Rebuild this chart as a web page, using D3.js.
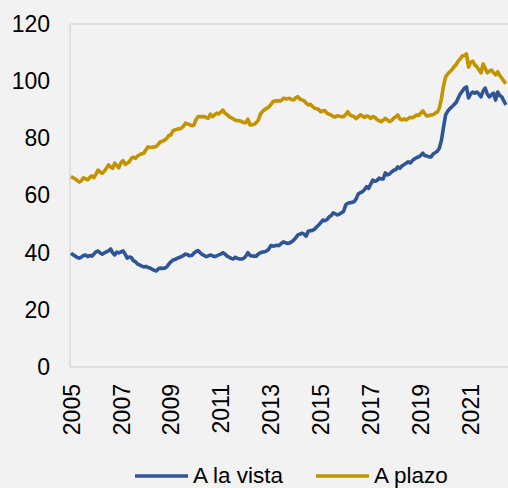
<!DOCTYPE html>
<html>
<head>
<meta charset="utf-8">
<script src="https://cdn.jsdelivr.net/npm/d3@7"></script>
<style>
  body { margin: 0; background: #F2F2F2; }
  svg { display: block; font-family: "Liberation Sans", Arial, sans-serif; }
</style>
</head>
<body>
<div id="chart"></div>
<script>
// monthly series, Jan 2005 onward
const startYear = 2005;
const tickYears = [2005, 2007, 2009, 2011, 2013, 2015, 2017, 2019, 2021];
const yTicks = [0, 20, 40, 60, 80, 100, 120];
const seriesNames = ["A la vista", "A plazo"];

const vista = [
  39.8, 39.3, 38.8, 38.3, 38.1, 38.5, 39.0, 39.2, 38.6, 39.0, 38.8, 39.5,
  40.3, 40.6, 39.9, 39.5, 39.9, 40.3, 40.6, 41.3, 40.0, 39.2, 40.2, 39.9,
  40.3, 40.6, 39.5, 38.1, 38.5, 38.3, 37.2, 36.8, 36.0, 35.7, 35.3, 35.0,
  35.2, 34.8, 34.6, 34.2, 33.8, 33.6, 34.4, 34.6, 34.5, 34.6, 35.0, 36.0,
  36.8, 37.4, 37.6, 38.0, 38.3, 38.6, 39.0, 39.5, 39.3, 38.9, 39.0, 39.8,
  40.4, 40.7, 40.0, 39.4, 39.0, 38.6, 38.9, 39.2, 38.9, 38.6, 38.9, 39.2,
  39.5, 40.0, 39.5, 38.8, 38.4, 38.0, 37.8, 38.4, 38.0, 37.8, 37.8, 38.0,
  38.8, 40.0, 39.0, 38.8, 38.8, 38.8, 39.5, 40.0, 40.2, 40.3, 40.6, 41.2,
  42.5, 42.3, 42.4, 42.6, 42.5, 43.2, 43.8, 43.5, 43.2, 43.4, 43.8, 44.4,
  45.2, 46.2, 46.5, 46.8, 46.5, 45.8, 47.5, 47.7, 47.8, 48.2, 49.0, 49.7,
  50.5, 51.4, 51.2, 51.6, 52.5, 53.0, 53.9, 53.6, 53.2, 53.5, 54.0, 54.5,
  56.7, 57.3, 57.5, 57.6, 57.8, 58.8, 60.5, 61.0, 61.3, 62.0, 63.1, 62.5,
  64.0, 65.4, 65.0, 65.2, 66.1, 65.8, 65.8, 67.9, 67.2, 67.5, 68.2, 68.8,
  69.0, 70.0, 69.5, 70.3, 70.8, 71.3, 71.8, 71.4, 72.2, 72.8, 73.2, 73.5,
  74.0, 74.8, 74.0, 73.8, 73.5, 73.5, 74.5, 75.0, 75.5, 76.6, 79.4, 84.0,
  88.2, 89.5, 90.4, 91.0, 91.8, 92.5, 94.0, 95.5, 96.5, 97.5, 98.0, 94.1,
  95.5, 96.2, 95.8, 96.2, 95.5, 94.5, 96.5, 97.6, 95.5, 94.5, 95.2, 95.8,
  93.4, 96.2, 95.0, 94.5, 93.0, 91.7
];

const plazo = [
  66.6, 66.2, 65.8, 65.2, 64.7, 65.2, 66.2, 65.8, 65.5, 66.3, 66.9, 66.3,
  67.5, 68.9, 68.2, 67.8, 68.5, 69.5, 70.7, 70.0, 69.5, 71.3, 70.5, 69.7,
  71.5, 72.2, 70.9, 71.3, 71.8, 73.0, 73.4, 73.0, 73.8, 74.3, 74.6, 74.8,
  76.0, 77.0, 76.8, 76.9, 77.0, 77.2, 78.0, 78.8, 79.0, 79.4, 80.0, 81.0,
  81.2, 82.6, 83.0, 83.2, 83.3, 83.6, 84.2, 85.3, 85.0, 84.8, 84.4, 84.6,
  86.4, 87.6, 87.6, 87.6, 87.6, 87.3, 87.0, 88.5, 87.6, 88.2, 88.8, 88.5,
  89.2, 89.9, 88.8, 88.3, 87.6, 87.2, 86.8, 86.3, 86.2, 86.2, 85.9, 85.5,
  85.5, 86.7, 84.7, 84.8, 84.9, 85.5, 86.4, 88.5, 89.4, 90.0, 90.5, 90.9,
  91.8, 92.8, 93.1, 93.1, 93.1, 93.2, 94.0, 93.9, 93.8, 94.0, 93.6, 93.4,
  94.2, 94.6, 93.7, 93.4, 93.1, 92.3, 91.7, 91.9, 91.2, 90.5, 90.4, 90.1,
  89.3, 89.6, 89.7, 88.8, 88.4, 88.2, 87.6, 87.5, 87.9, 87.7, 87.6, 87.6,
  88.3, 89.3, 88.2, 87.8, 87.6, 86.9, 87.5, 88.2, 87.8, 87.3, 87.8, 87.6,
  87.0, 87.6, 87.4, 86.6, 86.2, 85.8, 86.4, 87.0, 86.4, 85.9, 86.2, 87.0,
  87.5, 88.2, 86.8, 86.4, 86.8, 86.4, 86.9, 87.4, 87.2, 87.6, 88.2, 88.0,
  88.8, 89.6, 88.6, 87.8, 88.0, 88.2, 88.3, 88.8, 89.2, 90.6, 94.0, 98.5,
  101.5, 102.5, 103.3, 104.0, 105.0, 105.7, 107.0, 107.8, 108.8, 109.0, 109.5, 105.0,
  106.5, 107.0, 105.7, 105.0, 104.0, 102.9, 106.0, 104.5, 102.9, 103.5, 103.9, 103.0,
  102.2, 103.3, 102.0, 101.0, 100.0, 99.2
];

const colors = ["#2F5597", "#C59300"];

const width = 508,
      height = 488,
      margin = ({ top: 24, right: 0, bottom: 121, left: 70 });

let svg = d3.select("#chart")
    .append("svg")
    .attr("width", width)
    .attr("height", height);

svg.append("rect")
    .attr("width", width)
    .attr("height", height)
    .attr("fill", "#F2F2F2");

let x = d3.scaleLinear()
    .domain([0, vista.length - 1])
    .range([margin.left + 1, width - 2]);

let y = d3.scaleLinear()
    .domain([0, 120])
    .range([height - margin.bottom, margin.top]);

// frame lines: top, left, bottom
svg.append("line")
    .attr("x1", margin.left).attr("x2", width)
    .attr("y1", y(120)).attr("y2", y(120))
    .attr("stroke", "#D9D9D9").attr("stroke-width", 1.5);
svg.append("line")
    .attr("x1", margin.left).attr("x2", margin.left)
    .attr("y1", y(120)).attr("y2", y(0))
    .attr("stroke", "#D9D9D9").attr("stroke-width", 1.5);
svg.append("line")
    .attr("x1", margin.left).attr("x2", width)
    .attr("y1", y(0)).attr("y2", y(0))
    .attr("stroke", "#D9D9D9").attr("stroke-width", 1.5);

// y axis labels
svg.append("g")
    .attr("transform", `translate(${margin.left - 20},0)`)
    .call(d3.axisLeft(y).tickValues(yTicks).tickSize(0).tickPadding(0))
    .call(g => g.select(".domain").remove())
    .selectAll("text")
    .attr("font-size", 23)
    .attr("font-family", "Liberation Sans, Arial, sans-serif")
    .attr("fill", "#000");

// x axis labels, rotated
let xa = svg.append("g")
    .attr("transform", `translate(0,${y(0) + 17})`)
    .call(d3.axisBottom(x)
        .tickValues(tickYears.map(yr => (yr - startYear) * 12))
        .tickFormat(i => startYear + i / 12)
        .tickSize(0).tickPadding(0));
xa.select(".domain").remove();
xa.selectAll("text")
    .attr("font-size", 23)
    .attr("font-family", "Liberation Sans, Arial, sans-serif")
    .attr("fill", "#000")
    .attr("text-anchor", "end")
    .attr("transform", "rotate(-90)")
    .attr("x", 0)
    .attr("y", 0)
    .attr("dy", "0.35em");

let line = d3.line()
    .x((d, i) => x(i))
    .y(d => y(d));

[vista, plazo].forEach((s, k) => {
    svg.append("path")
        .datum(s)
        .attr("fill", "none")
        .attr("stroke", colors[k])
        .attr("stroke-width", 3.6)
        .attr("stroke-linejoin", "round")
        .attr("d", line);
});

// legend
const legendX = [135, 316];
seriesNames.forEach((name, k) => {
    let g = svg.append("g").attr("transform", `translate(${legendX[k]},476)`);
    g.append("line")
        .attr("x1", 0).attr("x2", 53)
        .attr("stroke", colors[k]).attr("stroke-width", 3.6);
    g.append("text")
        .attr("x", 58)
        .attr("dy", "0.33em")
        .attr("font-size", 22.5)
        .attr("fill", "#000")
        .text(name);
});
</script>
</body>
</html>
